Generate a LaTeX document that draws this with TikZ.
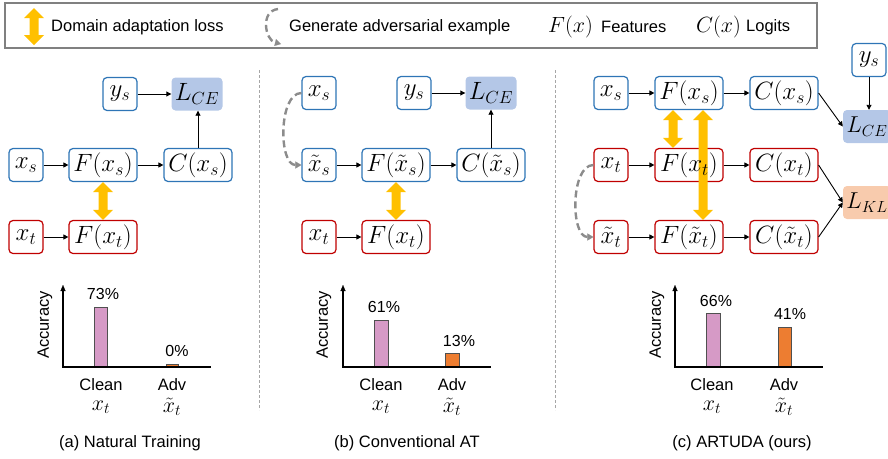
\RequirePackage{fix-cm}
\documentclass[tikz,border=0pt]{standalone}
\usepackage{fontspec}
\setmainfont{Liberation Sans}
\usetikzlibrary{arrows.meta,calc}
\definecolor{srcblue}{HTML}{2E75B6}
\definecolor{tgtred}{HTML}{C00000}
\definecolor{lossblue}{HTML}{B4C7E7}
\definecolor{losskl}{HTML}{F8CBAD}
\definecolor{ayellow}{HTML}{FFC000}
\definecolor{arcgray}{HTML}{8C8C8C}
\definecolor{legendgray}{HTML}{808080}
\definecolor{sepgray}{HTML}{A6A6A6}
\definecolor{barpink}{HTML}{D69AC6}
\definecolor{barorange}{HTML}{ED7D31}
\definecolor{baredge}{HTML}{505050}
\newcommand\fatarr[3]{%
  \fill[ayellow] ($#1+(#3,0)$) -- ($#1+({#3+10},10)$) -- ($#1+({#3+4.5},10)$)
   -- ($#2+({#3+4.5},-10)$) -- ($#2+({#3+10},-10)$) -- ($#2+(#3,0)$)
   -- ($#2+({#3-10},-10)$) -- ($#2+({#3-4.5},-10)$) -- ($#1+({#3-4.5},10)$)
   -- ($#1+({#3-10},10)$) -- cycle;}
\begin{document}
\begin{tikzpicture}[x=1pt,y=-1pt,
  mfont/.style={font=\fontsize{25}{25}\selectfont},
  box/.style={draw, rounded corners=4pt, line width=1.2pt, minimum height=33pt, inner sep=0pt, fill=white, mfont},
  sbox/.style={box, draw=srcblue},
  tbox/.style={box, draw=tgtred},
  sm/.style={minimum width=34pt},
  wd/.style={minimum width=68pt},
  lossbox/.style={rounded corners=4pt, minimum height=33pt, minimum width=51pt, inner sep=0pt, mfont},
  lossc/.style={lossbox, minimum width=48pt, font=\fontsize{23}{23}\selectfont},
  conn/.style={line width=0.9pt, -{Triangle[length=5pt,width=5pt]}},
  advarc/.style={draw=arcgray, line width=2.4pt, dash pattern=on 7pt off 4pt, -{Triangle[length=6pt,width=7pt,line width=0.1pt]}},
  txt/.style={font=\fontsize{16.5}{16.5}\selectfont, inner sep=0pt},
  pct/.style={font=\fontsize{16}{16}\selectfont, inner sep=0pt},
  mlbl/.style={font=\fontsize{22}{22}\selectfont, inner sep=0pt},
  lgm/.style={font=\fontsize{22}{22}\selectfont, inner sep=0pt},
  axisline/.style={line width=1.8pt, black},
  barline/.style={draw=baredge, line width=1pt},
  sepline/.style={draw=sepgray, line width=1pt, dash pattern=on 3pt off 2pt}]
\useasboundingbox (0,0) rectangle (888,458);

% ---------------- legend ----------------
\node[draw=legendgray, line width=1.3pt, minimum width=812pt, minimum height=45pt, inner sep=0pt] (legend) at (411,25.5) {};
\coordinate (lgT) at (34,8);
\coordinate (lgB) at (34,45);
\fatarr{(lgT)}{(lgB)}{0}
\node[txt, anchor=west] (lg1) at (51,27) {Domain adaptation loss};
\coordinate (lgA1) at (278,9);
\coordinate (lgA2) at (281,44);
\draw[advarc] (lgA1) .. controls +(-18,2) and +(-16,-4) .. (lgA2);
\node[txt, anchor=west] (lg2) at (289,27) {Generate adversarial example};
\node[lgm, anchor=west] (lg3) at (548,27) {$F(x)$};
\node[txt, anchor=west] (lg4) at (601,27) {Features};
\node[lgm, anchor=west] (lg5) at (696,27) {$C(x)$};
\node[txt, anchor=west] (lg6) at (746,27) {Logits};

% separators
\coordinate (s1a) at (259,70); \coordinate (s1b) at (259,410);
\coordinate (s2a) at (555,70); \coordinate (s2b) at (555,410);
\draw[sepline] (s1a) -- (s1b);
\draw[sepline] (s2a) -- (s2b);

% ---------------- panel (a) ----------------
\node[sbox, sm] (aYs) at (120,94) {$y_s$};
\node[lossbox, fill=lossblue] (aL) at (197,94) {$L_{CE}$};
\node[sbox, sm] (aXs) at (26,165) {$x_s$};
\node[sbox, wd] (aFs) at (103,165) {$F(x_s)$};
\node[sbox, wd] (aCs) at (198,165) {$C(x_s)$};
\node[tbox, sm] (aXt) at (26,237) {$x_t$};
\node[tbox, wd] (aFt) at (103,237) {$F(x_t)$};
\draw[conn] (aYs) -- (aL);
\draw[conn] (aXs) -- (aFs);
\draw[conn] (aFs) -- (aCs);
\draw[conn] (aCs.north) -- (aCs.north |- aL.south);
\draw[conn] (aXt) -- (aFt);
\fatarr{(aFs.south)}{(aFt.north)}{0}

% ---------------- panel (b) ----------------
\node[sbox, sm] (bXs) at (319,93) {$x_s$};
\node[sbox, sm] (bYs) at (414,93) {$y_s$};
\node[lossbox, fill=lossblue] (bL) at (491,93) {$L_{CE}$};
\node[sbox, sm] (bXts) at (319,165) {$\tilde{x}_s$};
\node[sbox, wd] (bFs) at (396,165) {$F(\tilde{x}_s)$};
\node[sbox, wd] (bCs) at (491,165) {$C(\tilde{x}_s)$};
\node[tbox, sm] (bXt) at (319,237) {$x_t$};
\node[tbox, wd] (bFt) at (396,237) {$F(x_t)$};
\draw[conn] (bYs) -- (bL);
\draw[conn] (bXts) -- (bFs);
\draw[conn] (bFs) -- (bCs);
\draw[conn] (bCs) -- (bL);
\draw[conn] (bXt) -- (bFt);
\fatarr{(bFs.south)}{(bFt.north)}{0}
\draw[advarc] (bXs.west) .. controls +(-23,0) and +(-23,0) .. (bXts.west);

% ---------------- panel (c) ----------------
\node[sbox, sm] (cXs) at (611,93) {$x_s$};
\node[sbox, wd] (cFs) at (689,93) {$F(x_s)$};
\node[sbox, wd] (cCs) at (784,93) {$C(x_s)$};
\node[sbox, sm] (cYs) at (869,60) {$y_s$};
\node[lossc, fill=lossblue] (cL) at (867,126.5) {$L_{CE}$};
\node[tbox, sm] (cXt) at (611,165) {$x_t$};
\node[tbox, wd] (cFt) at (689,165) {};
\node[tbox, wd] (cCt) at (784,165) {$C(x_t)$};
\node[lossc, fill=losskl] (cK) at (867,202.5) {$L_{KL}$};
\node[tbox, sm] (cXtt) at (611,237) {$\tilde{x}_t$};
\node[tbox, wd] (cFtt) at (689,237) {$F(\tilde{x}_t)$};
\node[tbox, wd] (cCtt) at (784,237) {$C(\tilde{x}_t)$};
\draw[conn] (cXs) -- (cFs);
\draw[conn] (cFs) -- (cCs);
\draw[conn] (cCs.east) -- (cL.west);
\draw[conn] (cYs) -- (cYs |- cL.north);
\draw[conn] (cXt) -- (cFt);
\draw[conn] (cFt) -- (cCt);
\draw[conn] (cCt.east) -- (cK.west);
\draw[conn] (cXtt) -- (cFtt);
\draw[conn] (cFtt) -- (cCtt);
\draw[conn] (cCtt.east) -- (cK.west);
\fatarr{(cFs.south)}{(cFt.north)}{-16}
\fatarr{(cFs.south)}{(cFtt.north)}{14}
\node[mfont, inner sep=0pt] (cFtText) at (cFt) {$F(x_t)$};
\draw[advarc] (cXt.west) .. controls +(-23,0) and +(-23,0) .. (cXtt.west);

% ---------------- charts ----------------
% (a)
\draw[barline, fill=barpink] (94,367) rectangle (107,307);
\draw[barline, fill=barorange] (166,367) rectangle (178,364);
\coordinate (aO) at (63,367); \coordinate (aYt) at (63,285); \coordinate (aXe) at (211,367);
\draw[axisline] ($(aO)+(-0.9,0)$) -- (aXe);
\draw[axisline, -{Triangle[length=6pt,width=5pt,line width=0.1pt]}] (aO) -- (aYt);
\node[pct] (aP1) at (103,294) {73\%};
\node[pct] (aP2) at (177,351) {0\%};
\node[txt] (aCl) at (101,385) {Clean};
\node[txt] (aAd) at (172,385) {Adv};
\node[mlbl] (aCx) at (101,407) {$x_t$};
\node[mlbl] (aAx) at (172,407) {$\tilde{x}_t$};
\node[txt, rotate=90] (aAcc) at (45,325) {Accuracy};
\node[txt] (aCap) at (130,443) {(a) Natural Training};

% (b)
\draw[barline, fill=barpink] (374,367) rectangle (388,320);
\draw[barline, fill=barorange] (445,367) rectangle (459,353);
\coordinate (bO) at (343,367); \coordinate (bYt) at (343,285); \coordinate (bXe) at (491,367);
\draw[axisline] ($(bO)+(-0.9,0)$) -- (bXe);
\draw[axisline, -{Triangle[length=6pt,width=5pt,line width=0.1pt]}] (bO) -- (bYt);
\node[pct] (bP1) at (384,307) {61\%};
\node[pct] (bP2) at (459,341) {13\%};
\node[txt] (bCl) at (381,385) {Clean};
\node[txt] (bAd) at (452,385) {Adv};
\node[mlbl] (bCx) at (381,407) {$x_t$};
\node[mlbl] (bAx) at (452,407) {$\tilde{x}_t$};
\node[txt, rotate=90] (bAcc) at (324,325) {Accuracy};
\node[txt] (bCap) at (407,443) {(b) Conventional AT};

% (c)
\draw[barline, fill=barpink] (706,367) rectangle (720,313);
\draw[barline, fill=barorange] (778,367) rectangle (791,327);
\coordinate (cO) at (675,367); \coordinate (cYt) at (675,285); \coordinate (cXe) at (823,367);
\draw[axisline] ($(cO)+(-0.9,0)$) -- (cXe);
\draw[axisline, -{Triangle[length=6pt,width=5pt,line width=0.1pt]}] (cO) -- (cYt);
\node[pct] (cP1) at (716,301) {66\%};
\node[pct] (cP2) at (790,314) {41\%};
\node[txt] (cCl) at (712,385) {Clean};
\node[txt] (cAd) at (784,385) {Adv};
\node[mlbl] (cCx) at (712,407) {$x_t$};
\node[mlbl] (cAx) at (784,407) {$\tilde{x}_t$};
\node[txt, rotate=90] (cAcc) at (657,325) {Accuracy};
\node[txt] (cCap) at (742,443) {(c) ARTUDA (ours)};
\end{tikzpicture}
\end{document}
